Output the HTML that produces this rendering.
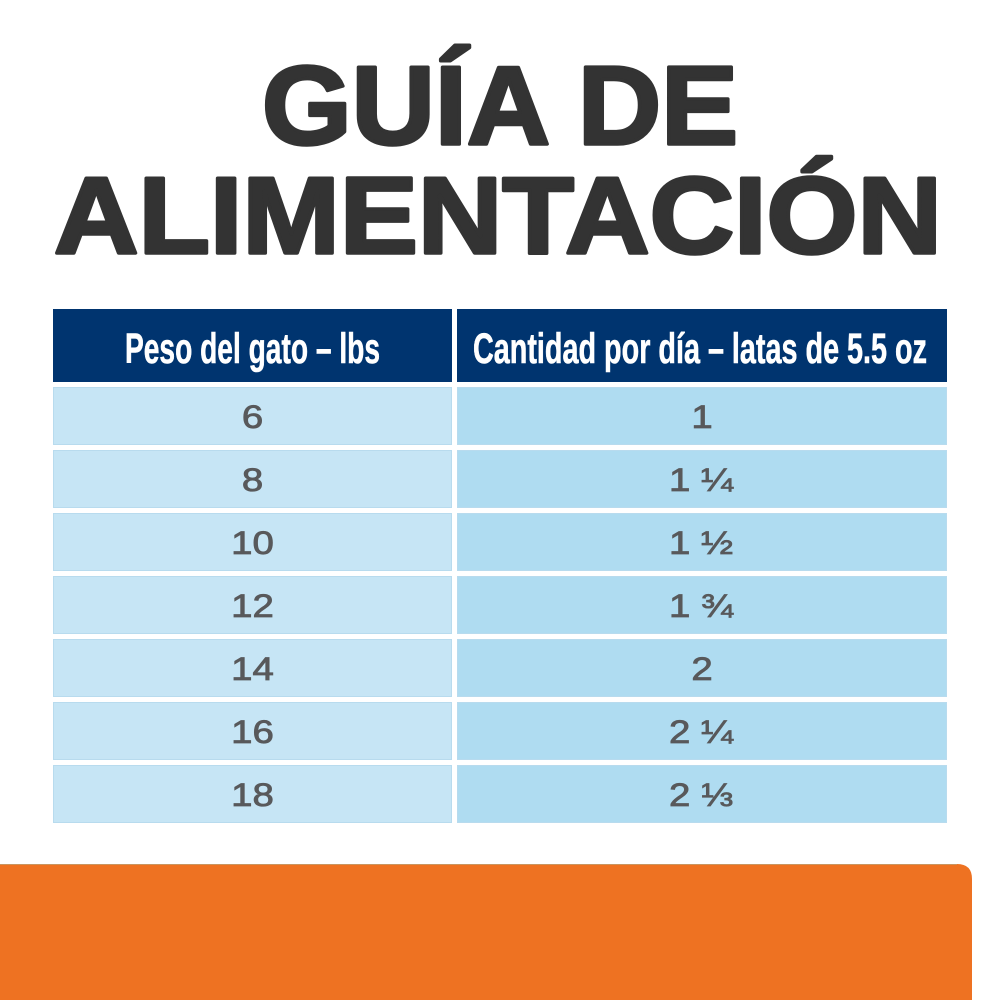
<!DOCTYPE html>
<html>
<head>
<meta charset="utf-8">
<style>
  html,body{margin:0;padding:0;background:#fff;}
  body{width:1000px;height:1000px;overflow:hidden;}
  svg{display:block;}
</style>
</head>
<body>
<svg width="1000" height="1000" viewBox="0 0 1000 1000" xmlns="http://www.w3.org/2000/svg">
  <rect x="0" y="0" width="1000" height="1000" fill="#ffffff"/>

  <!-- Title -->
  <g font-family="'Liberation Sans', sans-serif" font-weight="bold" fill="#333333" stroke="#333333" stroke-width="3.5" stroke-linejoin="round">
    <text x="262" y="144" font-size="111" textLength="476" lengthAdjust="spacingAndGlyphs">GUÍA DE</text>
    <text x="54" y="253" font-size="109" textLength="888" lengthAdjust="spacingAndGlyphs">ALIMENTACIÓN</text>
  </g>

  <!-- Header -->
  <rect x="53" y="309" width="399" height="73" fill="#00346f"/>
  <rect x="457" y="309" width="490" height="73" fill="#00346f"/>
  <g font-family="'Liberation Sans', sans-serif" font-weight="bold" fill="#ffffff" stroke="#ffffff" stroke-width="0.6" font-size="43">
    <text x="125" y="363" textLength="255" lengthAdjust="spacingAndGlyphs">Peso del gato – lbs</text>
    <text x="473" y="363" textLength="454" lengthAdjust="spacingAndGlyphs">Cantidad por día – latas de 5.5 oz</text>
  </g>

  <!-- Rows -->
  <g stroke="#b8dbee" stroke-width="1">
    <rect x="53.5" y="387.5" width="398" height="57" fill="#c6e5f5"/>
    <rect x="457.5" y="387.5" width="489" height="57" fill="#afdcf1"/>
    <rect x="53.5" y="450.5" width="398" height="57" fill="#c6e5f5"/>
    <rect x="457.5" y="450.5" width="489" height="57" fill="#afdcf1"/>
    <rect x="53.5" y="513.5" width="398" height="57" fill="#c6e5f5"/>
    <rect x="457.5" y="513.5" width="489" height="57" fill="#afdcf1"/>
    <rect x="53.5" y="576.5" width="398" height="57" fill="#c6e5f5"/>
    <rect x="457.5" y="576.5" width="489" height="57" fill="#afdcf1"/>
    <rect x="53.5" y="639.5" width="398" height="57" fill="#c6e5f5"/>
    <rect x="457.5" y="639.5" width="489" height="57" fill="#afdcf1"/>
    <rect x="53.5" y="702.5" width="398" height="57" fill="#c6e5f5"/>
    <rect x="457.5" y="702.5" width="489" height="57" fill="#afdcf1"/>
    <rect x="53.5" y="765.5" width="398" height="57" fill="#c6e5f5"/>
    <rect x="457.5" y="765.5" width="489" height="57" fill="#afdcf1"/>
  </g>

  <g font-family="'Liberation Sans', 'DejaVu Sans', sans-serif" font-size="32" fill="#58595b" stroke="#58595b" stroke-width="0.8" text-anchor="middle">
    <text transform="translate(252.5,428) scale(1.2,1)">6</text>
    <text transform="translate(702,428) scale(1.2,1)">1</text>

    <text transform="translate(252.5,491) scale(1.2,1)">8</text>
    <text transform="translate(701,491) scale(1.2,1)">1 ¼</text>

    <text transform="translate(252.5,554) scale(1.2,1)">10</text>
    <text transform="translate(701,554) scale(1.2,1)">1 ½</text>

    <text transform="translate(252.5,617) scale(1.2,1)">12</text>
    <text transform="translate(701,617) scale(1.2,1)">1 ¾</text>

    <text transform="translate(252.5,680) scale(1.2,1)">14</text>
    <text transform="translate(702,680) scale(1.2,1)">2</text>

    <text transform="translate(252.5,743) scale(1.2,1)">16</text>
    <text transform="translate(701,743) scale(1.2,1)">2 ¼</text>

    <text transform="translate(252.5,806) scale(1.2,1)">18</text>
    <text transform="translate(701,806) scale(1.2,1)">2 ⅓</text>
  </g>

  <!-- Orange footer -->
  <path d="M0 864 H957 Q972 864 972 879 V1000 H0 Z" fill="#ee7222"/>
  <path d="M0 864.5 H957" stroke="#c99560" stroke-width="1"/>
</svg>
</body>
</html>
